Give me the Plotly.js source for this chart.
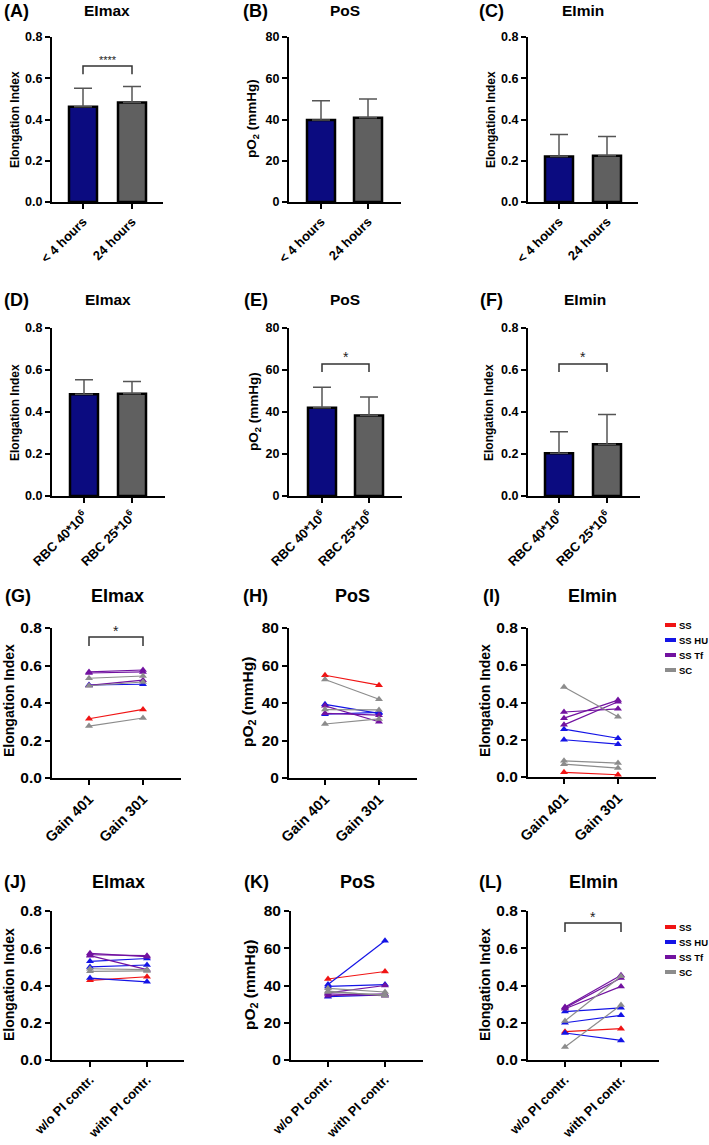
<!DOCTYPE html>
<html><head><meta charset="utf-8">
<script src="https://cdn.plot.ly/plotly-3.0.1.min.js"></script>
<style>html,body{margin:0;padding:0;background:#fff}</style>
</head><body><div id="chart" style="width:709px;height:1145px"></div>
<script>
// ---------- DATA ----------
const timeCats = ['< 4 hours', '24 hours'];
const rbcCats = ['RBC 40*10<sup>6</sup>', 'RBC 25*10<sup>6</sup>'];
const gainCats = ['Gain 401', 'Gain 301'];
const piCats = ['w/o PI contr.', 'with PI contr.'];

const A_mean = [0.462, 0.483], A_sd = [0.089, 0.077];
const B_mean = [39.8, 40.9],   B_sd = [9.3, 9.0];
const C_mean = [0.221, 0.224], C_sd = [0.106, 0.093];
const D_mean = [0.485, 0.487], D_sd = [0.068, 0.058];
const E_mean = [42.0, 38.3],   E_sd = [9.8, 8.9];
const F_mean = [0.203, 0.246], F_sd = [0.103, 0.142];

const groupNames = ['SS', 'SS HU', 'SS Tf', 'SC'];

const G_group = ['SS','SS HU','SS Tf','SS Tf','SS Tf','SC','SC','SC'];
const G_pre  = [0.316, 0.496, 0.566, 0.560, 0.494, 0.532, 0.492, 0.277];
const G_post = [0.366, 0.500, 0.576, 0.566, 0.522, 0.544, 0.512, 0.320];

const H_group = ['SS','SS HU','SS HU','SS Tf','SS Tf','SC','SC','SC'];
const H_pre  = [54.8, 39.3, 34.0, 38.5, 34.5, 52.5, 36.5, 28.8];
const H_post = [49.5, 34.5, 35.0, 30.0, 33.5, 42.0, 36.3, 31.5];

const I_group = ['SS','SS HU','SS HU','SS Tf','SS Tf','SS Tf','SC','SC','SC'];
const I_pre  = [0.025, 0.257, 0.200, 0.349, 0.316, 0.280, 0.483, 0.087, 0.069];
const I_post = [0.012, 0.208, 0.176, 0.366, 0.413, 0.404, 0.324, 0.075, 0.048];

const J_group = ['SS','SS HU','SS HU','SS HU','SS Tf','SS Tf','SS Tf','SC','SC'];
const J_pre  = [0.428, 0.530, 0.500, 0.440, 0.573, 0.565, 0.560, 0.490, 0.476];
const J_post = [0.447, 0.545, 0.510, 0.420, 0.555, 0.560, 0.485, 0.485, 0.478];

const K_group = ['SS','SS HU','SS HU','SS HU','SS Tf','SS Tf','SS Tf','SC','SC','SC'];
const K_pre  = [43.5, 40.5, 39.5, 34.0, 36.0, 34.5, 35.5, 38.5, 37.0, 36.5];
const K_post = [47.5, 64.0, 40.5, 35.0, 40.0, 35.5, 34.5, 36.5, 34.5, 35.0];

const L_group = ['SS','SS HU','SS HU','SS HU','SS Tf','SS Tf','SS Tf','SC','SC'];
const L_pre  = [0.152, 0.260, 0.200, 0.145, 0.285, 0.280, 0.275, 0.210, 0.070];
const L_post = [0.168, 0.280, 0.240, 0.105, 0.455, 0.440, 0.395, 0.450, 0.295];

// ---------- STYLE ----------
const W = 709, H = 1145;
const FONT = 'Arial, "Liberation Sans", sans-serif';
const groupColors = {'SS':'#f01414', 'SS HU':'#1414e6', 'SS Tf':'#7212a0', 'SC':'#8c8c8c'};
const barColors = ['#0b0b80', '#606060'];
const EI = 'Elongation Index', PO = 'pO<sub>2</sub> (mmHg)';
const px = x => x / W, py = y => 1 - y / H;

// geometry: [left, right, top, bottom, p0, p1]
const panels = [
  {lab:'(A)', t:'EImax', kind:'bar', cats:timeCats, m:A_mean, s:A_sd, ei:true,  g:[52,163,37,202,83,132],  lx:2,   ty:11,  tx:107, yx:15,  yy:120, sig:[0.62,0.659,'****',0.69]},
  {lab:'(B)', t:'PoS',   kind:'bar', cats:timeCats, m:B_mean, s:B_sd, ei:false, g:[289,401,37,202,321,368], lx:241, ty:11,  tx:345, yx:253, yy:119},
  {lab:'(C)', t:'EImin', kind:'bar', cats:timeCats, m:C_mean, s:C_sd, ei:true,  g:[528,638,37,202,559,607], lx:477, ty:11,  tx:583, yx:491, yy:120},
  {lab:'(D)', t:'EImax', kind:'bar', cats:rbcCats,  m:D_mean, s:D_sd, ei:true,  g:[52,165,328,496,84,132],  lx:2,   ty:300, tx:108, yx:15,  yy:413},
  {lab:'(E)', t:'PoS',   kind:'bar', cats:rbcCats,  m:E_mean, s:E_sd, ei:false, g:[289,402,328,496,322,369],lx:242, ty:300, tx:345, yx:255, yy:412, sig:[59,62.9,'*',66]},
  {lab:'(F)', t:'EImin', kind:'bar', cats:rbcCats,  m:F_mean, s:F_sd, ei:true,  g:[528,640,328,496,559,607],lx:478, ty:300, tx:585, yx:489, yy:413, sig:[0.59,0.629,'*',0.66]},
  {lab:'(G)', t:'EImax', kind:'line', cats:gainCats, grp:G_group, a:G_pre, b:G_post, ei:true,  g:[52,181,628,778,89,143],  lx:3,   ty:596, tx:117, yx:9,   yy:701, sig:[0.704,0.752,'*',0.785]},
  {lab:'(H)', t:'PoS',   kind:'line', cats:gainCats, grp:H_group, a:H_pre, b:H_post, ei:false, g:[289,417,628,778,325,379], lx:241, ty:596, tx:352, yx:248, yy:702},
  {lab:'(I)', t:'EImin', kind:'line', cats:gainCats, grp:I_group, a:I_pre, b:I_post, ei:true,  g:[528,656,628,777,564,618], lx:481, ty:596, tx:592, yx:485, yy:701, leg:625},
  {lab:'(J)', t:'EImax', kind:'line', cats:piCats, grp:J_group, a:J_pre, b:J_post, ei:true,  g:[52,184,911,1060,90,147],  lx:2,   ty:882, tx:118, yx:9,   yy:985},
  {lab:'(K)', t:'PoS',   kind:'line', cats:piCats, grp:K_group, a:K_pre, b:K_post, ei:false, g:[291,423,911,1060,328,385], lx:242, ty:882, tx:357, yx:250, yy:985},
  {lab:'(L)', t:'EImin', kind:'line', cats:piCats, grp:L_group, a:L_pre, b:L_post, ei:true,  g:[528,659,911,1060,565,621], lx:477, ty:882, tx:593, yx:485, yy:985, sig:[0.687,0.735,'*',0.77], leg:927}
];

const data = [], shapes = [], annotations = [];
const layout = {
  width: W, height: H, margin: {l:0, r:0, t:0, b:0},
  paper_bgcolor: '#fff', plot_bgcolor: 'rgba(0,0,0,0)',
  showlegend: false, hovermode: false,
  font: {family: FONT, color: '#000'}
};

panels.forEach((p, i) => {
  const n = i + 1;
  const xid = n === 1 ? 'x' : 'x' + n, yid = n === 1 ? 'y' : 'y' + n;
  const [L, R, T, B, p0, p1] = p.g;
  const unit = p1 - p0;
  const big = p.kind === 'line';
  const xfs = p.cats === piCats ? 13 : (big ? 14.5 : 13);
  layout['xaxis' + (n === 1 ? '' : n)] = {
    domain: [px(L), px(R)], anchor: yid, type: 'category',
    categoryorder: 'array', categoryarray: p.cats,
    range: [-(p0 - L) / unit, 1 + (R - p1) / unit],
    showline: true, linecolor: '#000', linewidth: 2, showgrid: false, zeroline: false,
    ticks: 'outside', ticklen: 5, tickwidth: 2, tickcolor: '#000',
    tickangle: -45, tickfont: {family: FONT, size: xfs, weight: 'bold', color: '#000'},
    fixedrange: true
  };
  layout['yaxis' + (n === 1 ? '' : n)] = {
    domain: [py(B), py(T)], anchor: xid,
    range: p.ei ? [0, 0.8] : [0, 80], dtick: p.ei ? 0.2 : 20,
    tickformat: p.ei ? '.1f' : 'd',
    showline: true, linecolor: '#000', linewidth: 2, showgrid: false, zeroline: false,
    ticks: 'outside', ticklen: 5, tickwidth: 2, tickcolor: '#000',
    tickfont: {family: FONT, size: big ? 15.5 : 12.5, weight: 'bold', color: '#000'},
    fixedrange: true
  };

  if (p.kind === 'bar') {
    data.push({
      type: 'bar', x: p.cats, y: p.m, xaxis: xid, yaxis: yid,
      width: 28 / unit,
      marker: {color: barColors, line: {color: '#000', width: 2.5}},
      error_y: {type: 'data', symmetric: false, array: p.s, arrayminus: p.s.map(() => 0),
                color: '#555', thickness: 1.5, width: 9}
    });
  } else {
    p.grp.forEach((g, k) => {
      data.push({
        type: 'scatter', mode: 'lines+markers', x: p.cats, y: [p.a[k], p.b[k]],
        xaxis: xid, yaxis: yid,
        line: {color: groupColors[g], width: 1.2},
        marker: {symbol: 'triangle-up', size: 7, color: groupColors[g]}
      });
    });
  }

  // panel label & title
  annotations.push({xref:'paper', yref:'paper', x: px(p.lx), y: py(p.ty), xanchor:'left', yanchor:'middle',
    text: '<b>' + p.lab + '</b>', showarrow:false, font:{family:FONT, size:18, color:'#000'}});
  annotations.push({xref:'paper', yref:'paper', x: px(p.tx), y: py(p.ty), xanchor:'center', yanchor:'middle',
    text: '<b>' + p.t + '</b>', showarrow:false, font:{family:FONT, size: big ? 18 : 15.5, color:'#000'}});
  // y-axis title
  annotations.push({xref:'paper', yref:'paper', x: px(p.yx), y: py(p.yy), xanchor:'center', yanchor:'middle',
    textangle: -90, text: '<b>' + (p.ei ? EI : PO) + '</b>', showarrow:false,
    font:{family:FONT, size: p.ei ? (big ? 14 : 12) : (big ? 15.5 : 13.5), color:'#000'}});

  // significance bracket
  if (p.sig) {
    const [lo, hi, txt, sy] = p.sig;
    shapes.push({type:'path', xref: xid, yref: yid,
      path: `M 0,${lo} L 0,${hi} L 1,${hi} L 1,${lo}`,
      line: {color:'#333', width:1.5}});
    annotations.push({xref: xid, yref: yid, x: 0.5, y: sy, xanchor:'center', yanchor:'middle',
      text: txt, showarrow:false, font:{family:FONT, size: txt.length > 1 ? 11 : 14, color:'#222'}});
  }

  // legend
  if (p.leg) {
    groupNames.forEach((g, k) => {
      const yy = p.leg + k * 15;
      shapes.push({type:'line', xref:'paper', yref:'paper', x0: px(665), x1: px(676), y0: py(yy), y1: py(yy),
        line:{color: groupColors[g], width: 4}});
      annotations.push({xref:'paper', yref:'paper', x: px(677), y: py(yy), xanchor:'left', yanchor:'middle',
        text:'<b>' + g + '</b>', showarrow:false, font:{family:FONT, size:9.5, color:'#000'}});
    });
  }
});

layout.shapes = shapes;
layout.annotations = annotations;
Plotly.newPlot('chart', data, layout, {staticPlot: true, displayModeBar: false});
</script>
</body></html>
